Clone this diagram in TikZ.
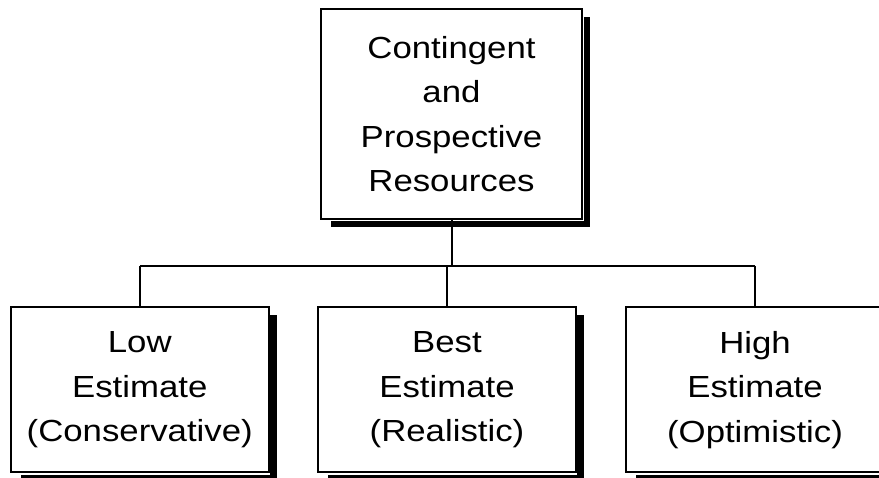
\documentclass[tikz,border=0pt]{standalone}
\usepackage{fontspec}
\setmainfont[FakeStretch=1.14]{Liberation Sans}
\usetikzlibrary{calc}
\begin{document}
\begin{tikzpicture}[x=1pt,y=-1pt,
  box/.style={draw=black, line width=2pt, fill=white, rectangle, inner sep=0pt, outer sep=0pt,
    align=center, font=\fontsize{30.5}{44.5}\selectfont},
  topbox/.style={box, minimum width=261pt, minimum height=210pt},
  estbox/.style={box, minimum width=257.5pt, minimum height=165.5pt},
  shadowfill/.style={fill=black, draw=none},
  wire/.style={line width=2pt}]
\useasboundingbox (0,0) rectangle (879,478);
\node[topbox] (top) at (451.5,114) {Contingent\\and\\Prospective\\Resources};
\node[estbox] (low) at (139.75,389.75) {Low\\Estimate\\(Conservative)};
\node[estbox] (best) at (447,389.75) {Best\\Estimate\\(Realistic)};
\node[estbox] (high) at (755,389.75) {High\\Estimate\\(Optimistic)};
\foreach \b in {top,low,best,high}{
  \fill[shadowfill] ($(\b.north east)+(1.5,8)$) rectangle ($(\b.south east)+(8,8)$);
  \fill[shadowfill] ($(\b.south west)+(10,2.5)$) rectangle ($(\b.south east)+(8,8)$);
}
\coordinate (bus) at (451.5,266);
\draw[wire] (top.south) -- (top.south |- bus);
\draw[wire] (low.north |- bus) -- (high.north |- bus);
\draw[wire] (low.north |- bus) -- (low.north);
\draw[wire] (best.north |- bus) -- (best.north);
\draw[wire] (high.north |- bus) -- (high.north);
\end{tikzpicture}
\end{document}
